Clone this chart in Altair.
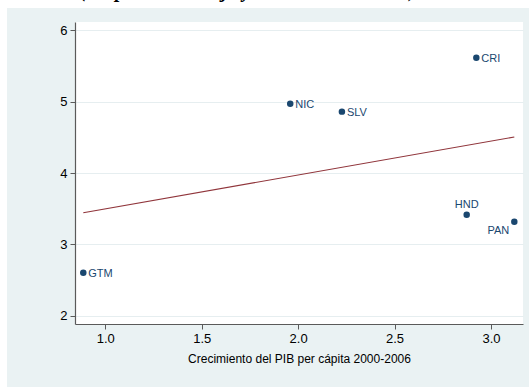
import altair as alt
import pandas as pd

countries = ["GTM", "NIC", "SLV", "CRI", "HND", "PAN"]
growth = [0.886, 1.959, 2.227, 2.924, 2.874, 3.121]
value = [2.603, 4.97, 4.86, 5.615, 3.414, 3.316]
x_ticks = [1.0, 1.5, 2.0, 2.5, 3.0]
y_ticks = [2, 3, 4, 5, 6]
x_title = "Crecimiento del PIB per cápita 2000-2006"
top_title = "(Empleo de trabajo y el crecimiento real)"

df = pd.DataFrame({"pais": countries, "x": growth, "y": value})
one = pd.DataFrame({"k": [0]})

NAVY = "#1a476f"
MAROON = "#90353b"
FONT = "Liberation Sans"

xs = alt.Scale(domain=[0.843, 3.166], nice=False, zero=False)
ys = alt.Scale(domain=[1.884, 6.116], nice=False, zero=False)

X = alt.X("x:Q", scale=xs, title=x_title,
          axis=alt.Axis(values=x_ticks, format=".1f", grid=False))
Y = alt.Y("y:Q", scale=ys, title=None,
          axis=alt.Axis(values=y_ticks, format="d", grid=True))

base = alt.Chart(df)

strip_left = alt.Chart(one).mark_rect(color="white").encode(
    x=alt.value(-76), x2=alt.value(-68), y=alt.value(-23), y2=alt.value(366))
strip_top = alt.Chart(one).mark_rect(color="white").encode(
    x=alt.value(-76), x2=alt.value(455), y=alt.value(-23), y2=alt.value(-14))
title_txt = alt.Chart(one).mark_text(
    text=top_title, font="Liberation Serif", fontStyle="italic", fontWeight="bold",
    fontSize=20, align="center", baseline="alphabetic", color="black"
).encode(x=alt.value(173), y=alt.value(-25))

fit = base.transform_regression("x", "y").mark_line(
    color=MAROON, strokeWidth=1.2).encode(x=X, y=Y)

pts = base.mark_circle(size=42, opacity=1, color=NAVY).encode(x=X, y=Y)

lab_right = base.transform_filter(
    alt.FieldOneOfPredicate(field="pais", oneOf=["GTM", "NIC", "SLV", "CRI"])
).mark_text(align="left", baseline="middle", dx=5, dy=1, fontSize=11,
            font=FONT, color=NAVY).encode(x=X, y=Y, text="pais:N")
lab_top = base.transform_filter(alt.datum.pais == "HND").mark_text(
    align="center", baseline="middle", dy=-10, fontSize=11,
    font=FONT, color=NAVY).encode(x=X, y=Y, text="pais:N")
lab_bl = base.transform_filter(alt.datum.pais == "PAN").mark_text(
    align="right", baseline="middle", dx=-5, dy=9, fontSize=11,
    font=FONT, color=NAVY).encode(x=X, y=Y, text="pais:N")

chart = alt.layer(
    strip_left, strip_top, title_txt, fit, pts, lab_right, lab_top, lab_bl
).properties(
    width=448, height=302,
    padding={"left": 75, "top": 22, "right": 6, "bottom": 63},
    autosize=alt.AutoSizeParams(type="none"),
    background="#EAF2F3",
).configure_view(
    fill="white", stroke=None
).configure_axis(
    domainColor="#5a5a5a", tickColor="#5a5a5a", domainWidth=1.2, tickWidth=1,
    tickSize=5, labelFont=FONT, labelFontSize=13, labelColor="black",
    titleFont=FONT, titleFontSize=12, titleFontWeight="normal", titleColor="black",
    gridColor="#E6EEF0", gridWidth=1.2,
).configure_axisX(
    labelPadding=3, titlePadding=8
).configure_axisY(
    labelPadding=3
)

chart.save("out.html", embed_options={"renderer": "svg", "actions": False})
